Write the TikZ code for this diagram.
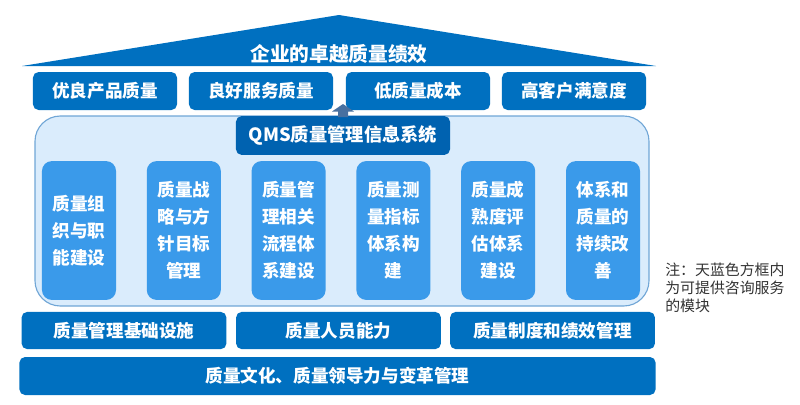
\documentclass[tikz,border=0pt]{standalone}
\usepackage{fontspec}
\setmainfont{Noto Sans CJK SC}
\usetikzlibrary{positioning}
\definecolor{qblue}{RGB}{0,112,192}
\definecolor{qdark}{RGB}{0,98,176}
\definecolor{qpillar}{RGB}{58,154,234}
\definecolor{qpanel}{RGB}{218,236,252}
\definecolor{qline}{RGB}{112,166,214}
\definecolor{qarrow}{RGB}{72,112,160}
\definecolor{qnote}{RGB}{50,50,50}

\begin{document}
\begin{tikzpicture}[
  x=0.025cm,
  y=-0.025cm,
  bluebox/.style={
    fill=qblue,
    text=white,
    rounded corners=4pt,
    inner sep=0pt,
    font=\bfseries\fontsize{12.5}{15}\selectfont
  },
  topbox/.style={
    bluebox,
    minimum width=3.6cm,
    minimum height=0.95cm
  },
  basebox/.style={
    bluebox,
    minimum width=5.12cm,
    minimum height=0.93cm
  },
  pillar/.style={
    fill=qpillar,
    text=white,
    rounded corners=7pt,
    minimum width=1.85cm,
    minimum height=3.47cm,
    inner sep=0pt,
    align=center,
    font=\bfseries\fontsize{12.5}{19.2}\selectfont
  }
]
\useasboundingbox (0,0) rectangle (800,404);
\fill[qblue] (22,66) -- (339,15) -- (656,66) -- cycle;
\node[text=white, font=\bfseries\fontsize{14}{16}\selectfont] (roof) at (339,54) {企业的卓越质量绩效};
\node[topbox] (goal1) at (105,91) {优良产品质量};
\node[topbox] (goal2) at (261,91) {良好服务质量};
\node[topbox] (goal3) at (418,91) {低质量成本};
\node[topbox] (goal4) at (574,91) {高客户满意度};
\filldraw[fill=qpanel, draw=qline, thick, rounded corners=18pt] (35,116) rectangle (649,306);
\node[bluebox, fill=qdark, minimum width=5.35cm, minimum height=0.97cm, font=\bfseries\fontsize{13}{15}\selectfont] (qms) at (343,135.5) {QMS质量管理信息系统};
\fill[qarrow] (338,117) -- (338,111.5) -- (332,111.5) -- (343,104) -- (354,111.5) -- (348,111.5) -- (348,117) -- cycle;
\foreach \t [count=\i] in {
  {质量组\\织与职\\能建设},
  {质量战\\略与方\\针目标\\管理},
  {质量管\\理相关\\流程体\\系建设},
  {质量测\\量指标\\体系构\\建},
  {质量成\\熟度评\\估体系\\建设},
  {体系和\\质量的\\持续改\\善}}
  \node[pillar] (p\i) at ({79+104.8*(\i-1)},230.5) {\t};
\node[basebox] (base1) at (124,330.5) {质量管理基础设施};
\node[basebox] (base2) at (338.5,330.5) {质量人员能力};
\node[basebox] (base3) at (552.5,330.5) {质量制度和绩效管理};
\node[bluebox, minimum width=15.9cm, minimum height=0.95cm] (culture) at (337.5,376) {质量文化、质量领导力与变革管理};
\node[anchor=north west, align=left, inner sep=0pt, text=qnote, font=\fontsize{10.6}{12.8}\selectfont] (note) at (665,263) {注：天蓝色方框内\\为可提供咨询服务\\的模块};
\end{tikzpicture}
\end{document}
